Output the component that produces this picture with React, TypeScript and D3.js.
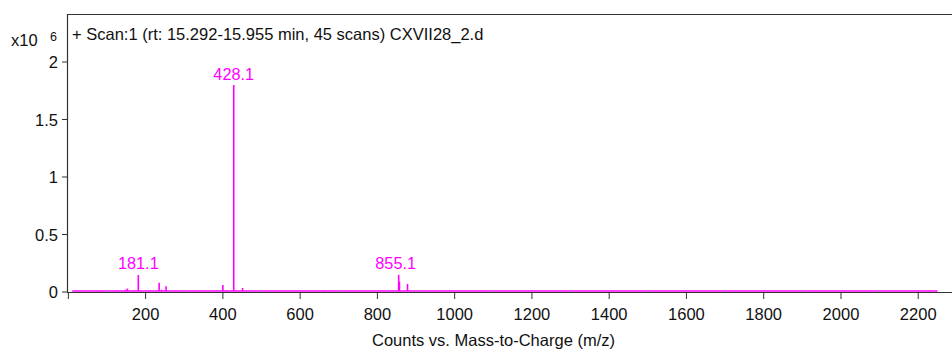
import React from "react";
import * as d3 from "d3";

const peakMz = [85, 119, 148, 153, 170, 181.1, 235, 241, 253, 400, 410, 428.1, 451, 663, 855.1, 857, 878];
const peakIntensity = [0.006, 0.008, 0.02, 0.03, 0.012, 0.148, 0.08, 0.02, 0.05, 0.06, 0.015, 1.8, 0.035, 0.012, 0.15, 0.09, 0.07];
const labeledMz = [181.1, 428.1, 855.1];
const xTicks = [200, 400, 600, 800, 1000, 1200, 1400, 1600, 1800, 2000, 2200];
const yTicks = [0, 0.5, 1, 1.5, 2];
const baselineRange = [10, 2250];
const title = "+ Scan:1 (rt: 15.292-15.955 min, 45 scans) CXVII28_2.d";
const xTitle = "Counts vs. Mass-to-Charge (m/z)";

export default function App() {
  const W = 952, H = 352;
  const left = 67, top = 14, bottom = 292;
  const x = d3.scaleLinear().domain([-3.5, 2290]).range([left, 953]);
  const y = d3.scaleLinear().domain([0, 2]).range([bottom, 62]);
  const font = "'Liberation Sans', Arial, sans-serif";
  const magenta = "#ff00ff";
  const axisColor = "#333";
  const minor = d3.range(100, 2300, 200);
  return (
    <svg width={W} height={H} style={{ position: "absolute", left: 0, top: 0, background: "#fff" }} fontFamily={font}>
      {/* frame */}
      <line x1={left} x2={W} y1={top + 0.5} y2={top + 0.5} stroke={axisColor} strokeWidth={1.2} />
      <line x1={left + 0.5} x2={left + 0.5} y1={top} y2={bottom + 1} stroke={axisColor} strokeWidth={1.2} />
      {/* baseline */}
      <line x1={x(baselineRange[0])} x2={x(baselineRange[1])} y1={bottom - 1} y2={bottom - 1} stroke={magenta} strokeWidth={1.6} />
      <line x1={left} x2={W} y1={bottom + 0.5} y2={bottom + 0.5} stroke={axisColor} strokeWidth={1.2} />
      {/* minor ticks */}
      {minor.map((m) => (
        <line key={"mn" + m} x1={x(m)} x2={x(m)} y1={bottom - 2} y2={bottom} stroke="#999" strokeWidth={1} />
      ))}
      {/* y ticks */}
      {yTicks.map((t) => (
        <g key={"y" + t}>
          <line x1={left - 5} x2={left} y1={y(t)} y2={y(t)} stroke={axisColor} strokeWidth={1} />
          <text x={left - 9} y={y(t) + 6} textAnchor="end" fontSize={16.5} fill="#111">{t}</text>
        </g>
      ))}
      <text x={11} y={46} fontSize={16.5} fill="#111">x10</text>
      <text x={50} y={41} fontSize={12.5} fill="#111">6</text>
      {/* x ticks */}
      <line x1={x(0)} x2={x(0)} y1={bottom} y2={bottom + 7} stroke={axisColor} strokeWidth={1} />
      {xTicks.map((t) => (
        <g key={"x" + t}>
          <line x1={x(t)} x2={x(t)} y1={bottom} y2={bottom + 7} stroke={axisColor} strokeWidth={1} />
          <text x={x(t)} y={320} textAnchor="middle" fontSize={16.5} fill="#111">{t}</text>
        </g>
      ))}
      <text x={493.5} y={346} textAnchor="middle" fontSize={16.5} fill="#111">{xTitle}</text>
      {/* peaks */}
      {peakMz.map((m, i) => (
        <line key={"p" + i} x1={x(m)} x2={x(m)} y1={bottom - 1} y2={y(peakIntensity[i])} stroke={magenta} strokeWidth={1.6} />
      ))}
      {labeledMz.map((m) => {
        const i = peakMz.indexOf(m);
        return (
          <text key={"l" + m} x={x(m) - (m === 855.1 ? 3 : 0)} y={y(peakIntensity[i]) - 5.5} textAnchor="middle" fontSize={16.3} fill={magenta}>
            {m.toFixed(1)}
          </text>
        );
      })}
      <text x={72} y={39.5} fontSize={16.5} fill="#111">{title}</text>
    </svg>
  );
}
